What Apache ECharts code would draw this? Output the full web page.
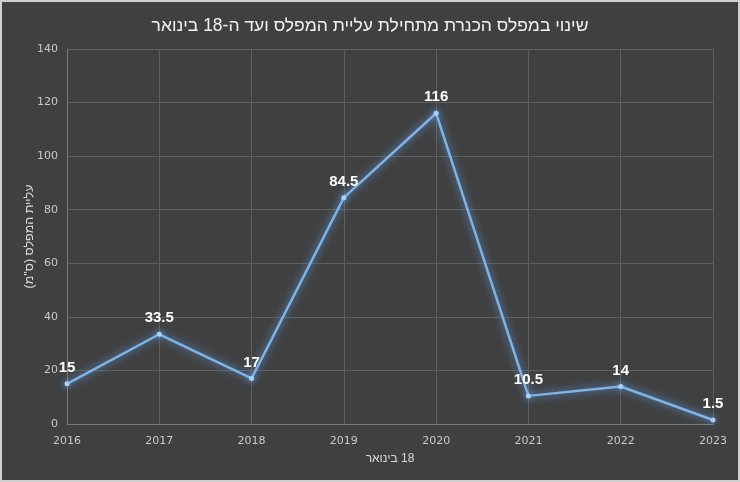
<!DOCTYPE html>
<html style="height: 100%">
<head>
    <meta charset="utf-8">
</head>
<body style="height: 100%; margin: 0; background: #d0d0d0">
    <div id="container" style="width: 736px; height: 478px; border: 2px solid #cfcfcf; direction: rtl"></div>
    <script type="text/javascript" src="https://cdn.jsdelivr.net/npm/echarts@6/dist/echarts.min.js"></script>
    <script type="text/javascript">
        var years = ['2016', '2017', '2018', '2019', '2020', '2021', '2022', '2023'];
        var rise = [15, 33.5, 17, 84.5, 116, 10.5, 14, 1.5];
        var yTicks = [0, 20, 40, 60, 80, 100, 120, 140];

        var myChart = echarts.init(document.getElementById('container'));
        var option = {
            backgroundColor: '#404040',
            title: {
                text: 'שינוי במפלס הכנרת מתחילת עליית המפלס ועד ה-18 בינואר',
                left: 'center',
                top: 10,
                textStyle: {
                    color: '#f2f2f2',
                    fontSize: 17.5,
                    fontWeight: 'normal',
                    fontFamily: 'Liberation Sans'
                }
            },
            grid: {
                left: 65,
                right: 25,
                top: 47,
                bottom: 56
            },
            xAxis: {
                type: 'category',
                data: years,
                boundaryGap: false,
                name: '18 בינואר',
                nameLocation: 'middle',
                nameGap: 29,
                nameTextStyle: { color: '#d9d9d9', fontSize: 12, fontFamily: 'Liberation Sans' },
                axisLine: { lineStyle: { color: '#7a7a7a' } },
                axisTick: { show: false },
                axisLabel: { color: '#c8c8c8', fontSize: 11, margin: 12, fontFamily: 'DejaVu Sans' },
                splitLine: { show: true, lineStyle: { color: '#5e5e5e', width: 1 } }
            },
            yAxis: {
                type: 'value',
                min: yTicks[0],
                max: yTicks[yTicks.length - 1],
                interval: 20,
                name: 'עליית המפלס (ס"מ)',
                nameLocation: 'middle',
                nameGap: 31,
                nameMoveOverlap: false,
                nameRotate: 90,
                nameTextStyle: { color: '#d9d9d9', fontSize: 12.5, fontFamily: 'Liberation Sans' },
                axisLine: { show: true, lineStyle: { color: '#7a7a7a' } },
                axisTick: { show: false },
                axisLabel: { color: '#c8c8c8', fontSize: 11, margin: 9, fontFamily: 'DejaVu Sans' },
                splitLine: { lineStyle: { color: '#5e5e5e', width: 1 } }
            },
            series: [{
                type: 'line',
                data: rise,
                symbol: 'circle',
                symbolSize: 5,
                lineStyle: {
                    color: '#7eb3e6',
                    width: 2.5,
                    shadowColor: 'rgba(100, 165, 245, 1)',
                    shadowBlur: 9
                },
                itemStyle: {
                    color: '#a9d0f5',
                    shadowColor: 'rgba(100, 165, 245, 1)',
                    shadowBlur: 6
                },
                label: {
                    show: true,
                    position: 'top',
                    distance: 6,
                    color: '#ffffff',
                    fontSize: 15,
                    fontWeight: 'bold',
                    fontFamily: 'Liberation Sans'
                },
                animation: false
            }]
        };
        myChart.setOption(option, true);
    </script>
</body>
</html>
